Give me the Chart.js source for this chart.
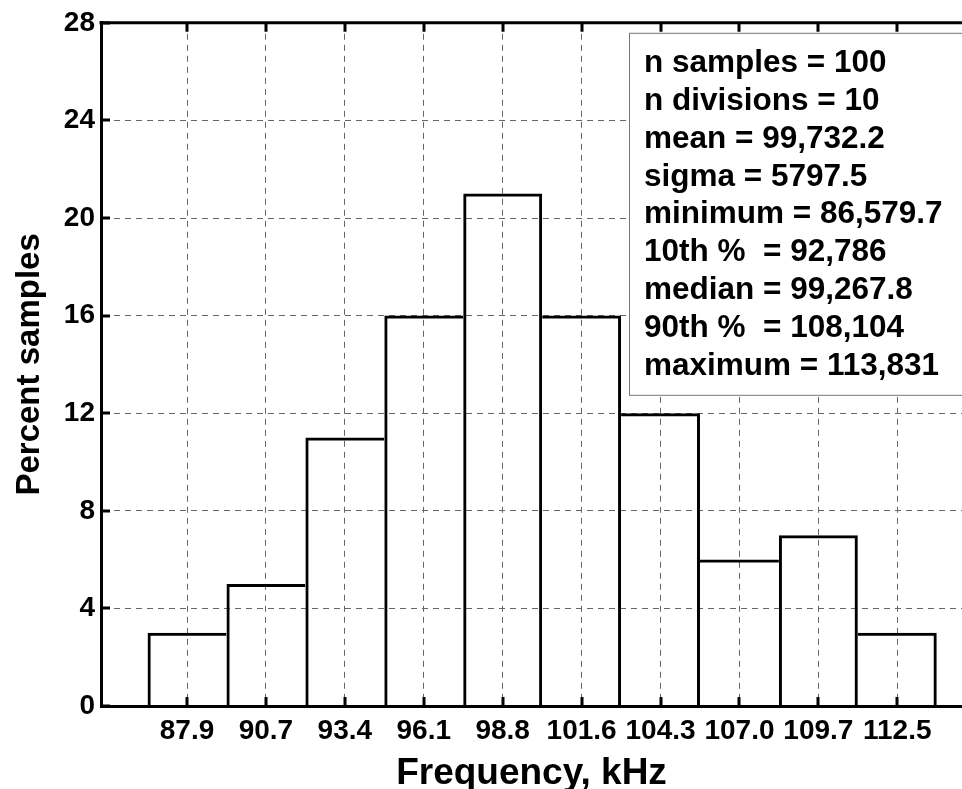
<!DOCTYPE html>
<html>
<head>
<meta charset="utf-8">
<title>Frequency histogram</title>
<script src="https://cdn.jsdelivr.net/npm/chart.js@4.4.1/dist/chart.umd.min.js"></script>
<style>
  html, body { margin: 0; padding: 0; background: #fff; overflow: hidden; }
</style>
</head>
<body>
<canvas id="histChart" width="962" height="789"></canvas>
<script>
// bin centres (kHz) as printed under the bars
const binLabels = ['87.9', '90.7', '93.4', '96.1', '98.8', '101.6', '104.3', '107.0', '109.7', '112.5'];
// percent of samples in each bin
const percentSamples = [3, 5, 11, 16, 21, 16, 12, 6, 7, 3];
// summary box text
const statsLines = [
  'n samples = 100',
  'n divisions = 10',
  'mean = 99,732.2',
  'sigma = 5797.5',
  'minimum = 86,579.7',
  '10th %  = 92,786',
  'median = 99,267.8',
  '90th %  = 108,104',
  'maximum = 113,831'
];

const FONT = 'Arial, "Liberation Sans", sans-serif';

// top border, inward tick marks and the stats box
const framePlugin = {
  id: 'frame',
  afterDatasetsDraw(chart) {
    const ctx = chart.ctx;
    const a = chart.chartArea;
    const x = chart.scales.x, y = chart.scales.y;
    ctx.save();

    // stats box
    const bx = a.left + 528, by = a.top + 10;
    ctx.fillStyle = '#fff';
    ctx.fillRect(bx, by, 400, 362);
    ctx.strokeStyle = '#777';
    ctx.lineWidth = 1;
    ctx.strokeRect(bx + 0.5, by + 0.5, 400, 362);
    ctx.fillStyle = '#000';
    ctx.font = 'bold 31.5px ' + FONT;
    ctx.textBaseline = 'alphabetic';
    statsLines.forEach((s, i) => ctx.fillText(s, bx + 15, by + 39 + i * 37.9));

    ctx.strokeStyle = '#000';
    ctx.lineWidth = 3;
    ctx.beginPath();
    ctx.moveTo(a.left - 1.5, a.top);
    ctx.lineTo(a.right, a.top);
    ctx.stroke();

    ctx.beginPath();
    x.ticks.forEach(t => {
      const px = Math.round(x.getPixelForValue(t.value));
      ctx.moveTo(px, a.bottom);
      ctx.lineTo(px, a.bottom - 9);
      ctx.moveTo(px, a.top);
      ctx.lineTo(px, a.top + 9);
    });
    y.ticks.forEach(t => {
      const py = Math.round(y.getPixelForValue(t.value));
      ctx.moveTo(a.left, py);
      ctx.lineTo(a.left + 9, py);
    });
    ctx.stroke();
    ctx.restore();
  }
};

// shared edges between neighbouring bars are drawn once, by the taller bar
function barBorder(c) {
  const i = c.dataIndex, v = percentSamples;
  return {
    top: 3,
    bottom: 0,
    left: (i === 0 || v[i] >= v[i - 1]) ? 3 : 0,
    right: (i === v.length - 1 || v[i] > v[i + 1]) ? 3 : 0
  };
}

const ctx = document.getElementById('histChart');
new Chart(ctx, {
  type: 'bar',
  data: {
    datasets: [{
      label: 'Percent samples',
      data: percentSamples.map((v, i) => ({ x: i, y: v })),
      backgroundColor: 'rgba(0,0,0,0)',
      borderColor: '#000',
      borderWidth: barBorder,
      borderSkipped: false,
      inflateAmount: 0,
      barPercentage: 1,
      categoryPercentage: 1
    }]
  },
  options: {
    responsive: false,
    animation: false,
    layout: { padding: { top: 22, right: 0, left: 0, bottom: 0 } },
    plugins: {
      legend: { display: false },
      tooltip: { enabled: false }
    },
    scales: {
      x: {
        type: 'linear',
        offset: false,
        min: -1.09,
        max: 9.82,
        afterBuildTicks: (scale) => {
          scale.ticks = binLabels.map((_, i) => ({ value: i }));
        },
        afterFit: (scale) => { scale.height = 83; },
        grid: { color: '#666', lineWidth: 1, drawTicks: false, offset: false },
        border: { display: true, color: '#000', width: 3, dash: [6, 5] },
        ticks: {
          autoSkip: false,
          maxRotation: 0,
          padding: 8,
          color: '#000',
          font: { family: FONT, size: 28, weight: 'bold' },
          callback: (value, index) => binLabels[index]
        },
        title: {
          display: true,
          text: 'Frequency, kHz',
          color: '#000',
          font: { family: FONT, size: 37, weight: 'bold', lineHeight: 1 },
          padding: { top: 0, bottom: -3 }
        }
      },
      y: {
        min: 0,
        max: 28,
        afterFit: (scale) => { scale.width = 101; },
        grid: { color: '#666', lineWidth: 1, drawTicks: false },
        border: { display: true, color: '#000', width: 3, dash: [6, 5] },
        ticks: {
          stepSize: 4,
          padding: 6,
          color: '#000',
          font: { family: FONT, size: 28, weight: 'bold' }
        },
        title: {
          display: true,
          text: 'Percent samples',
          color: '#000',
          font: { family: FONT, size: 33, weight: 'bold', lineHeight: 1.2 },
          padding: { top: 10, bottom: 0 }
        }
      }
    }
  },
  plugins: [framePlugin]
});
</script>
</body>
</html>
